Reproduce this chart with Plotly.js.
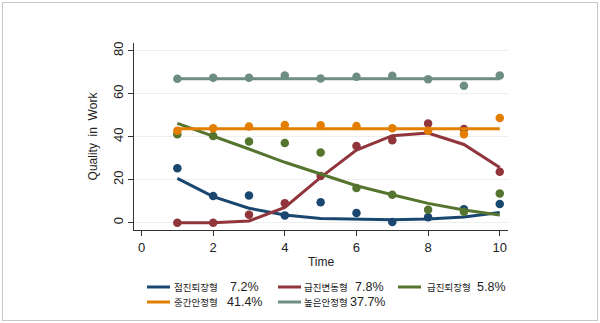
<!DOCTYPE html>
<html>
<head>
<meta charset="utf-8">
<script src="https://cdn.plot.ly/plotly-3.0.1.min.js"></script>
<style>
  html, body { margin: 0; padding: 0; background: #fff; }
  #wrap { position: relative; width: 600px; height: 323px; }
  #chart { width: 600px; height: 323px; }
  #frame { position: absolute; left: 2px; top: 2px; width: 594px; height: 317px; border: 1px solid #c8c8c8; pointer-events: none; }
</style>
</head>
<body>
<div id="wrap"><div id="chart"></div><div id="frame"></div></div>
<script>
// ---- data ----
const time = [1, 2, 3, 4, 5, 6, 7, 8, 9, 10];

const groupNames = ['점진퇴장형', '급진변동형', '급진퇴장형', '중간안정형', '높은안정형'];
const groupShares = ['7.2%', '7.8%', '5.8%', '41.4%', '37.7%'];

// observed means (dots)
const obsGradualExit  = [25.3, 12.4, 12.7, 3.4, 9.5, 4.5, 0.3, 2.5, 6.2, 8.7];
const obsRapidChange  = [0.0, 0.0, 3.7, 9.1, 21.7, 35.7, 38.4, 46.2, 43.6, 23.7];
const obsRapidExit    = [41.2, 40.3, 37.8, 37.1, 32.7, 16.1, 13.0, 6.0, 5.1, 13.6];
const obsMidStable    = [42.8, 43.9, 44.7, 45.4, 45.3, 45.0, 43.9, 42.8, 41.2, 48.7];
const obsHighStable   = [67.0, 67.4, 67.4, 68.5, 67.1, 67.9, 68.4, 66.7, 63.7, 68.5];

// fitted trajectories (lines)
const fitGradualExit  = [20.6, 12.1, 6.7, 3.6, 2.0, 1.6, 1.4, 1.7, 2.6, 4.7];
const fitRapidChange  = [0.0, 0.0, 0.8, 7.1, 21.1, 33.8, 40.5, 41.7, 36.4, 25.7];
const fitRapidExit    = [46.2, 40.3, 34.3, 28.1, 22.5, 17.2, 13.0, 9.0, 5.9, 3.6];
const fitMidStable    = [43.7, 43.7, 43.7, 43.7, 43.7, 43.7, 43.7, 43.7, 43.7, 43.7];
const fitHighStable   = [67.0, 67.0, 67.0, 67.0, 67.0, 67.0, 67.0, 67.0, 67.0, 67.0];

const xTicks = [0, 2, 4, 6, 8, 10];
const yTicks = [0, 20, 40, 60, 80];

// ---- styling ----
const colors = ['#1a476f', '#90353b', '#55752f', '#e37e00', '#6e8e84'];
const obs = [obsGradualExit, obsRapidChange, obsRapidExit, obsMidStable, obsHighStable];
const fit = [fitGradualExit, fitRapidChange, fitRapidExit, fitMidStable, fitHighStable];

const traces = [];
for (let i = 0; i < 5; i++) {
  traces.push({
    x: time, y: fit[i], type: 'scatter', mode: 'lines',
    line: { color: colors[i], width: 3 }, showlegend: false, hoverinfo: 'skip'
  });
  traces.push({
    x: time, y: obs[i], type: 'scatter', mode: 'markers',
    marker: { color: colors[i], size: 8.5 }, showlegend: false, hoverinfo: 'skip'
  });
}

// plot area geometry (pixels)
const M = { l: 134, r: 92, t: 43, b: 93 };
const PW = 600 - M.l - M.r, PH = 323 - M.t - M.b;
const px = v => (v - M.l) / PW;
const py = v => (323 - M.b - v) / PH;

// manual legend
const legendCells = [
  { line: 147, name: 173, pct: 229, row: 287 },
  { line: 278, name: 303, pct: 354, row: 287 },
  { line: 398, name: 426, pct: 476, row: 287 },
  { line: 147, name: 173, pct: 226, row: 302 },
  { line: 278, name: 303, pct: 349, row: 302 }
];
const shapes = [];
const annotations = [];
legendCells.forEach((c, i) => {
  shapes.push({
    type: 'line', xref: 'paper', yref: 'paper',
    x0: px(c.line), x1: px(c.line + 23), y0: py(c.row), y1: py(c.row),
    line: { color: colors[i], width: 3 }
  });
  annotations.push({
    xref: 'paper', yref: 'paper', x: px(c.name), y: py(c.row),
    xanchor: 'left', yanchor: 'middle', showarrow: false, text: groupNames[i],
    borderpad: 0,
    font: { family: 'Noto Sans CJK KR', size: 9.5, color: '#222' }
  });
  annotations.push({
    xref: 'paper', yref: 'paper', x: px(c.pct), y: py(c.row),
    xanchor: 'left', yanchor: 'middle', showarrow: false, text: groupShares[i],
    borderpad: 0,
    font: { family: 'Liberation Sans, Arial', size: 12.5, color: '#222' }
  });
});

const layout = {
  width: 600, height: 323,
  margin: M,
  paper_bgcolor: '#ffffff', plot_bgcolor: '#ffffff',
  font: { family: 'Liberation Sans, Arial, sans-serif', color: '#222' },
  showlegend: false,
  xaxis: {
    range: [-0.21, 10.23], tickvals: xTicks, ticktext: xTicks.map(String),
    ticks: 'outside', ticklen: 5, tickcolor: '#333', tickwidth: 1,
    showline: true, linecolor: '#333', linewidth: 1,
    showgrid: false, zeroline: false,
    tickfont: { size: 13, color: '#222' },
    title: { text: 'Time', font: { size: 12, color: '#222' }, standoff: 4 }
  },
  yaxis: {
    range: [-3.4, 83.6], tickvals: yTicks, ticktext: yTicks.map(String),
    ticks: 'outside', ticklen: 5, tickcolor: '#333', tickwidth: 1,
    tickangle: -90,
    showline: true, linecolor: '#333', linewidth: 1,
    showgrid: true, gridcolor: '#eeeeee', gridwidth: 1, zeroline: false,
    tickfont: { size: 13, color: '#222' },
    title: { text: 'Quality&nbsp; in&nbsp; Work', font: { size: 12, color: '#222' }, standoff: 10 }
  },
  shapes: shapes,
  annotations: annotations
};

Plotly.newPlot('chart', traces, layout, { displayModeBar: false, staticPlot: true });
</script>
</body>
</html>
